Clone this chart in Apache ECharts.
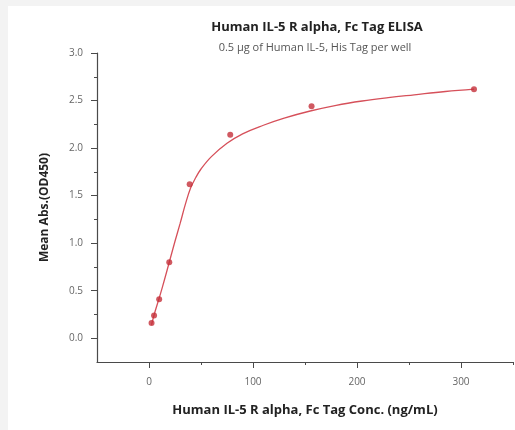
<!DOCTYPE html>
<html>
<head>
<meta charset="utf-8">
<script src="https://cdn.jsdelivr.net/npm/echarts@6/dist/echarts.min.js"></script>
<style>
html,body{margin:0;padding:0;background:#fff;}
#c{width:515px;height:430px;}
</style>
</head>
<body>
<div id="c"></div>
<script>
// Measured data points (concentration ng/mL, mean OD450)
var concentrations = [2.44, 4.88, 9.77, 19.5, 39.1, 78.1, 156.3, 312.5];
var absorbance = [0.16, 0.24, 0.41, 0.80, 1.62, 2.14, 2.44, 2.62];
// Fitted curve
var curveX = [2.44, 5, 10, 15, 20, 25, 30, 35, 40, 45, 50, 60, 75, 90, 110, 130, 155, 180, 205, 230, 255, 285, 312.5];
var curveY = [0.14, 0.25, 0.43, 0.62, 0.82, 1.02, 1.21, 1.41, 1.58, 1.69, 1.78, 1.91, 2.05, 2.15, 2.24, 2.315, 2.39, 2.45, 2.495, 2.53, 2.56, 2.595, 2.62];
var xMajorTicks = [0, 100, 200, 300];
var xMinorTicks = [50, 150, 250, 350];
var yMajorTicks = [0, 0.5, 1.0, 1.5, 2.0, 2.5, 3.0];
var yMinorTicks = [0.25, 0.75, 1.25, 1.75, 2.25, 2.75];

var chart = echarts.init(document.getElementById('c'), null, {renderer: 'canvas'});
var font = '"Open Sans", "Noto Sans", sans-serif';
var axisColor = '#4a4a4a';
var option = {
  backgroundColor: '#fff',
  animation: false,
  graphic: [
    {type: 'rect', shape: {x: 0, y: 0, width: 8, height: 430}, style: {fill: '#f3f3f3'}, silent: true},
    {type: 'rect', shape: {x: 0, y: 0, width: 515, height: 6}, style: {fill: '#f3f3f3'}, silent: true}
  ],
  title: [
    {text: 'Human IL-5 R alpha, Fc Tag ELISA', left: 312, top: 16, textAlign: 'center',
     textStyle: {fontFamily: font, fontSize: 13, fontWeight: 'bold', color: '#222'}},
    {text: '0.5 \u03bcg of Human IL-5, His Tag per well', left: 310, top: 37, textAlign: 'center',
     textStyle: {fontFamily: font, fontSize: 11, fontWeight: 'normal', color: '#555'}}
  ],
  grid: {left: 97, right: 2, top: 53, bottom: 68, containLabel: false},
  xAxis: [
    {type: 'value', min: -50, max: 350, interval: 50, position: 'bottom',
     name: 'Human IL-5 R alpha, Fc Tag Conc. (ng/mL)', nameLocation: 'middle', nameGap: 42,
     nameTextStyle: {fontFamily: font, fontSize: 13, fontWeight: 'bold', color: '#222'},
     axisLine: {show: true, onZero: false, lineStyle: {color: axisColor, width: 1.2}},
     axisTick: {show: true, length: 6, customValues: xMajorTicks, lineStyle: {color: axisColor}},
     axisLabel: {customValues: xMajorTicks, margin: 15, fontFamily: font, fontSize: 10, color: '#666'},
     splitLine: {show: false}},
    {type: 'value', min: -50, max: 350, interval: 50, position: 'bottom',
     axisLine: {show: false, onZero: false},
     axisTick: {show: true, length: 3, customValues: xMinorTicks, lineStyle: {color: axisColor}},
     axisLabel: {show: false}, splitLine: {show: false}}
  ],
  yAxis: [
    {type: 'value', min: -0.25, max: 3.0, position: 'left',
     name: 'Mean Abs.(OD450)', nameLocation: 'middle', nameGap: 46,
     nameTextStyle: {fontFamily: font, fontSize: 12, fontWeight: 'bold', color: '#222'},
     axisLine: {show: true, onZero: false, lineStyle: {color: axisColor, width: 1.2}},
     axisTick: {show: true, length: 6, customValues: yMajorTicks, lineStyle: {color: axisColor}},
     axisLabel: {customValues: yMajorTicks, margin: 14, fontFamily: font, fontSize: 10, color: '#666',
       formatter: function (v) { return v.toFixed(1); }},
     splitLine: {show: false}},
    {type: 'value', min: -0.25, max: 3.0, position: 'left',
     axisLine: {show: false, onZero: false},
     axisTick: {show: true, length: 3, customValues: yMinorTicks, lineStyle: {color: axisColor}},
     axisLabel: {show: false}, splitLine: {show: false}}
  ],
  series: [
    {type: 'line', xAxisIndex: 0, yAxisIndex: 0,
     data: curveX.map(function (x, i) { return [x, curveY[i]]; }),
     smooth: 0.4, showSymbol: false,
     lineStyle: {color: '#d6505a', width: 1.3}, z: 2},
    {type: 'scatter', xAxisIndex: 0, yAxisIndex: 0,
     data: concentrations.map(function (x, i) { return [x, absorbance[i]]; }),
     symbol: 'circle', symbolSize: 6, itemStyle: {color: '#c42f3a'}, z: 3}
  ]
};
chart.setOption(option);
</script>
</body>
</html>
